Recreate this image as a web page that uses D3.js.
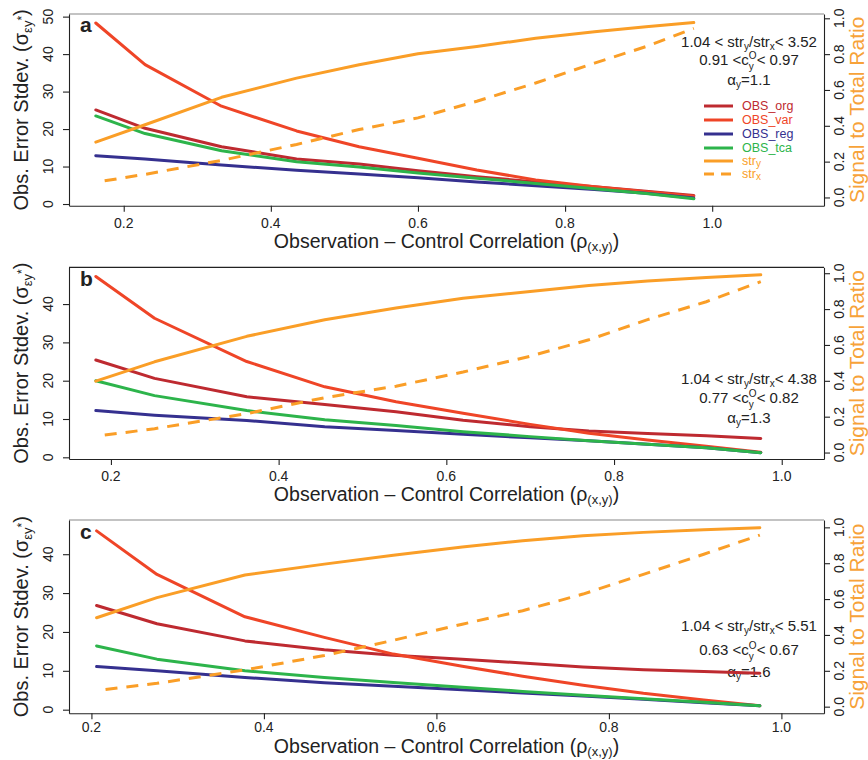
<!DOCTYPE html>
<html><head><meta charset="utf-8">
<script src="https://cdn.jsdelivr.net/npm/d3@7"></script>
<style>body{margin:0;background:#fff}svg{display:block}</style>
</head><body>
<script>
// ---------------- DATA ----------------
const seriesNames = ["OBS_org","OBS_var","OBS_reg","OBS_tca","stry","strx"];
const panelLetters = ["a","b","c"];

const xA = [0.162,0.229,0.333,0.435,0.52,0.60,0.68,0.76,0.84,0.91,0.975];
const orgA = [25.1,20.2,15.3,12.0,10.7,8.9,7.3,5.9,4.6,3.4,2.3];
const varA = [48.3,37.2,26.1,19.5,15.3,12.2,9.1,6.4,4.6,3.3,2.1];
const regA = [12.9,12.0,10.4,9.0,8.0,7.0,5.9,4.9,3.9,2.9,1.6];
const tcaA = [23.5,18.8,14.2,11.3,9.9,8.3,6.9,5.5,4.1,2.8,1.4];
const stryA = [0.309,0.406,0.559,0.666,0.741,0.802,0.842,0.889,0.925,0.953,0.976];
const strxA = [0.085,0.129,0.207,0.296,0.379,0.444,0.537,0.639,0.75,0.842,0.944];

const xB = [0.182,0.252,0.362,0.455,0.54,0.62,0.70,0.77,0.84,0.91,0.975];
const orgB = [25.4,20.6,15.8,13.8,11.9,9.7,8.0,6.9,6.2,5.6,4.9];
const varB = [47.2,36.3,25.0,18.4,14.5,11.5,8.6,6.3,4.5,2.9,1.3];
const regB = [12.2,11.0,9.6,8.0,7.0,6.0,5.1,4.3,3.4,2.5,1.2];
const tcaB = [20.0,16.1,12.2,9.8,8.3,6.7,5.4,4.3,3.4,2.5,1.2];
const stryB = [0.398,0.506,0.648,0.741,0.806,0.861,0.898,0.931,0.957,0.976,0.991];
const strxB = [0.091,0.133,0.217,0.306,0.37,0.449,0.537,0.629,0.741,0.841,0.953];

const xC = [0.206,0.276,0.378,0.47,0.55,0.63,0.70,0.77,0.84,0.91,0.975];
const orgC = [26.8,22.1,17.7,15.4,14.0,13.0,12.0,11.0,10.3,9.8,9.4];
const varC = [46.0,34.8,23.9,18.6,14.3,11.2,8.6,6.3,4.2,2.5,1.0];
const regC = [11.1,10.0,8.3,6.9,6.0,5.1,4.3,3.5,2.7,1.8,1.0];
const tcaC = [16.4,13.0,10.0,8.3,7.0,5.8,4.7,3.7,2.8,1.9,1.0];
const stryC = [0.496,0.608,0.734,0.795,0.845,0.89,0.925,0.953,0.972,0.987,0.998];
const strxC = [0.09,0.13,0.205,0.285,0.37,0.46,0.535,0.628,0.738,0.85,0.957];

const ratioLo = [1.04,1.04,1.04];
const ratioHi = [3.52,4.38,5.51];
const cLo = [0.91,0.77,0.63];
const cHi = [0.97,0.82,0.67];
const alphaY = [1.1,1.3,1.6];

const xTicks = [0.2,0.4,0.6,0.8,1.0];
const xTickLabels = ["0.2","0.4","0.6","0.8","1.0"];
const yTicksA = [0,10,20,30,40,50];
const yTicksBC = [0,10,20,30,40];
const rTicks = [0,0.2,0.4,0.6,0.8,1.0];
const rTickLabels = ["0.0","0.2","0.4","0.6","0.8","1.0"];

// ---------------- STYLE / LAYOUT ----------------
const FONT = "'Liberation Sans', Arial, Helvetica, sans-serif";
const colors = {OBS_org:"#BE2A30", OBS_var:"#EF4527", OBS_reg:"#35308F", OBS_tca:"#2DB44B", stry:"#FA9E27", strx:"#FA9E27"};
const LEFT = 69, RIGHT = 824;

const panels = [
  {x:xA, s:{OBS_org:orgA,OBS_var:varA,OBS_reg:regA,OBS_tca:tcaA,stry:stryA,strx:strxA},
   top:14, bottom:205.7, xDom:[0.1256,1.152], yDom:[-0.45,50.7], rDom:[-0.046,1.024], yTicks:yTicksA,
   tickY:223, titleY:241, letterY:31.5, anno:[41.7,60,80], legend:true, topCol:"#888"},
  {x:xB, s:{OBS_org:orgB,OBS_var:varB,OBS_reg:regB,OBS_tca:tcaB,stry:stryB,strx:strxB},
   top:267.3, bottom:459, xDom:[0.15,1.0504], yDom:[-0.44,49.6], rDom:[-0.036,1.033], yTicks:yTicksBC,
   tickY:475.5, titleY:494, letterY:285.7, anno:[379,398,418], legend:false, topCol:"#222"},
  {x:xC, s:{OBS_org:orgC,OBS_var:varC,OBS_reg:regC,OBS_tca:tcaC,stry:stryC,strx:strxC},
   top:520, bottom:713.3, xDom:[0.174,1.0494], yDom:[-0.93,48.8], rDom:[-0.037,1.041], yTicks:yTicksBC,
   tickY:727, titleY:746.5, letterY:539, anno:[626,650,671.5], legend:false, topCol:"#888"}
];

const svg = d3.select("body").append("svg").attr("width",868).attr("height",760)
  .attr("font-family", FONT);

// rich text: parts [{t, s, dy, stack, fill}]
function rich(parent, parts, o) {
  const size = o.size, fill = o.fill || "#222";
  const g = parent.append("g").attr("transform", `translate(${o.x},${o.y}) rotate(${o.rotate||0})`);
  const inner = g.append("g");
  let cx = 0, prevStart = 0;
  parts.forEach(p => {
    const fs = p.s || size;
    const t = inner.append("text").attr("font-size", fs).attr("fill", p.fill || fill)
      .attr("font-weight", o.weight || "normal").text(p.t);
    const w = t.node().getComputedTextLength();
    let px;
    if (p.stack) { px = prevStart; cx = Math.max(cx, px + w); }
    else { px = cx; prevStart = px; cx = px + w; }
    t.attr("x", px).attr("y", (p.dy || 0) + 0.35 * size);
  });
  const anchor = o.anchor || "middle";
  const shift = anchor === "middle" ? -cx / 2 : anchor === "end" ? -cx : 0;
  inner.attr("transform", `translate(${shift},0)`);
  return g;
}

panels.forEach((P, i) => {
  const x = d3.scaleLinear().domain(P.xDom).range([LEFT, RIGHT]);
  const y = d3.scaleLinear().domain(P.yDom).range([P.bottom, P.top]);
  const r = d3.scaleLinear().domain(P.rDom).range([P.bottom, P.top]);
  const g = svg.append("g");

  // box top
  g.append("line").attr("x1",LEFT).attr("x2",RIGHT).attr("y1",P.top).attr("y2",P.top)
    .attr("stroke",P.topCol).attr("stroke-width",1.2);

  // axes
  const ax = g.append("g").attr("transform",`translate(0,${P.bottom})`)
    .call(d3.axisBottom(x).tickValues(xTicks).tickSize(6).tickSizeOuter(0).tickFormat(""));
  const ay = g.append("g").attr("transform",`translate(${LEFT},0)`)
    .call(d3.axisLeft(y).tickValues(P.yTicks).tickSize(6).tickSizeOuter(0).tickFormat(""));
  const ar = g.append("g").attr("transform",`translate(${RIGHT},0)`)
    .call(d3.axisRight(r).tickValues(rTicks).tickSize(6).tickSizeOuter(0).tickFormat(""));
  [ax,ay,ar].forEach(a => { a.selectAll("path,line").attr("stroke","#222").attr("stroke-width",1.1); });

  // tick labels
  xTicks.forEach((v,k) => {
    g.append("text").attr("x", x(v)).attr("y", P.tickY).attr("dy","0.36em")
      .attr("text-anchor","middle").attr("font-size",14).attr("fill","#222").text(xTickLabels[k]);
  });
  P.yTicks.forEach(v => {
    g.append("text").attr("transform",`translate(48,${y(v)}) rotate(-90)`).attr("dy","0.36em")
      .attr("text-anchor","middle").attr("font-size",14).attr("fill","#222").text(String(v));
  });
  rTicks.forEach((v,k) => {
    g.append("text").attr("transform",`translate(839,${r(v)}) rotate(-90)`).attr("dy","0.36em")
      .attr("text-anchor","middle").attr("font-size",14).attr("fill","#222").text(rTickLabels[k]);
  });

  const midY = (P.top + P.bottom) / 2;
  // axis titles
  rich(g, [{t:"Obs. Error Stdev. (σ"},{t:"εy",s:13,dy:4},{t:"*",s:12,dy:-2},{t:")"}],
    {x:21, y:midY, rotate:-90, size:20});
  rich(g, [{t:"Signal to Total Ratio"}], {x:857, y:midY, rotate:-90, size:21, fill:"#F7A239"});
  rich(g, [{t:"Observation – Control Correlation (ρ"},{t:"(x,y)",s:13,dy:3},{t:")"}],
    {x:(LEFT+RIGHT)/2, y:P.titleY, size:19.5});

  // panel letter
  g.append("text").attr("x",80).attr("y",P.letterY).attr("font-size",21).attr("font-weight","bold")
    .attr("fill","#222").text(panelLetters[i]);

  // annotations
  const AX = 749;
  rich(g, [{t:`${ratioLo[i].toFixed(2)} < str`},{t:"y",s:10,dy:3},{t:"/str"},{t:"x",s:10,dy:3},{t:` < ${ratioHi[i].toFixed(2)}`}],
    {x:AX, y:P.anno[0], size:15});
  rich(g, [{t:`${cLo[i].toFixed(2)} <c`},{t:"O",s:10,dy:-6},{t:"y",s:10,dy:5,stack:true},{t:` < ${cHi[i].toFixed(2)}`}],
    {x:AX, y:P.anno[1], size:15});
  rich(g, [{t:"α"},{t:"y",s:10,dy:3},{t:`=${alphaY[i].toFixed(1)}`}],
    {x:AX, y:P.anno[2], size:15});

  // lines
  const lineL = d3.line().x((d,k) => x(P.x[k])).y(d => y(d));
  const lineR = d3.line().x((d,k) => x(P.x[k])).y(d => r(d));
  ["OBS_org","OBS_var","OBS_reg","OBS_tca"].forEach(n => {
    g.append("path").attr("d", lineL(P.s[n])).attr("fill","none").attr("stroke",colors[n])
      .attr("stroke-width",3).attr("stroke-linejoin","round").attr("stroke-linecap","round");
  });
  g.append("path").attr("d", lineR(P.s.stry)).attr("fill","none").attr("stroke",colors.stry)
    .attr("stroke-width",3).attr("stroke-linejoin","round").attr("stroke-linecap","round");
  g.append("path").attr("d", lineR(P.s.strx)).attr("fill","none").attr("stroke",colors.strx)
    .attr("stroke-width",3).attr("stroke-dasharray","12 9").attr("stroke-dashoffset",12);

  // legend
  if (P.legend) {
    const rows = [106,120,134,148,161,174];
    seriesNames.forEach((n,k) => {
      g.append("line").attr("x1",704).attr("x2",733).attr("y1",rows[k]).attr("y2",rows[k])
        .attr("stroke",colors[n]).attr("stroke-width",3)
        .attr("stroke-dasharray", n === "strx" ? "10 7" : null);
      const parts = n === "stry" ? [{t:"str"},{t:"y",s:10,dy:2}] :
                    n === "strx" ? [{t:"str"},{t:"x",s:10,dy:2}] : [{t:n}];
      rich(g, parts, {x:742, y:rows[k], size:12.5, anchor:"start", fill:colors[n]});
    });
  }
});
</script>
</body></html>
